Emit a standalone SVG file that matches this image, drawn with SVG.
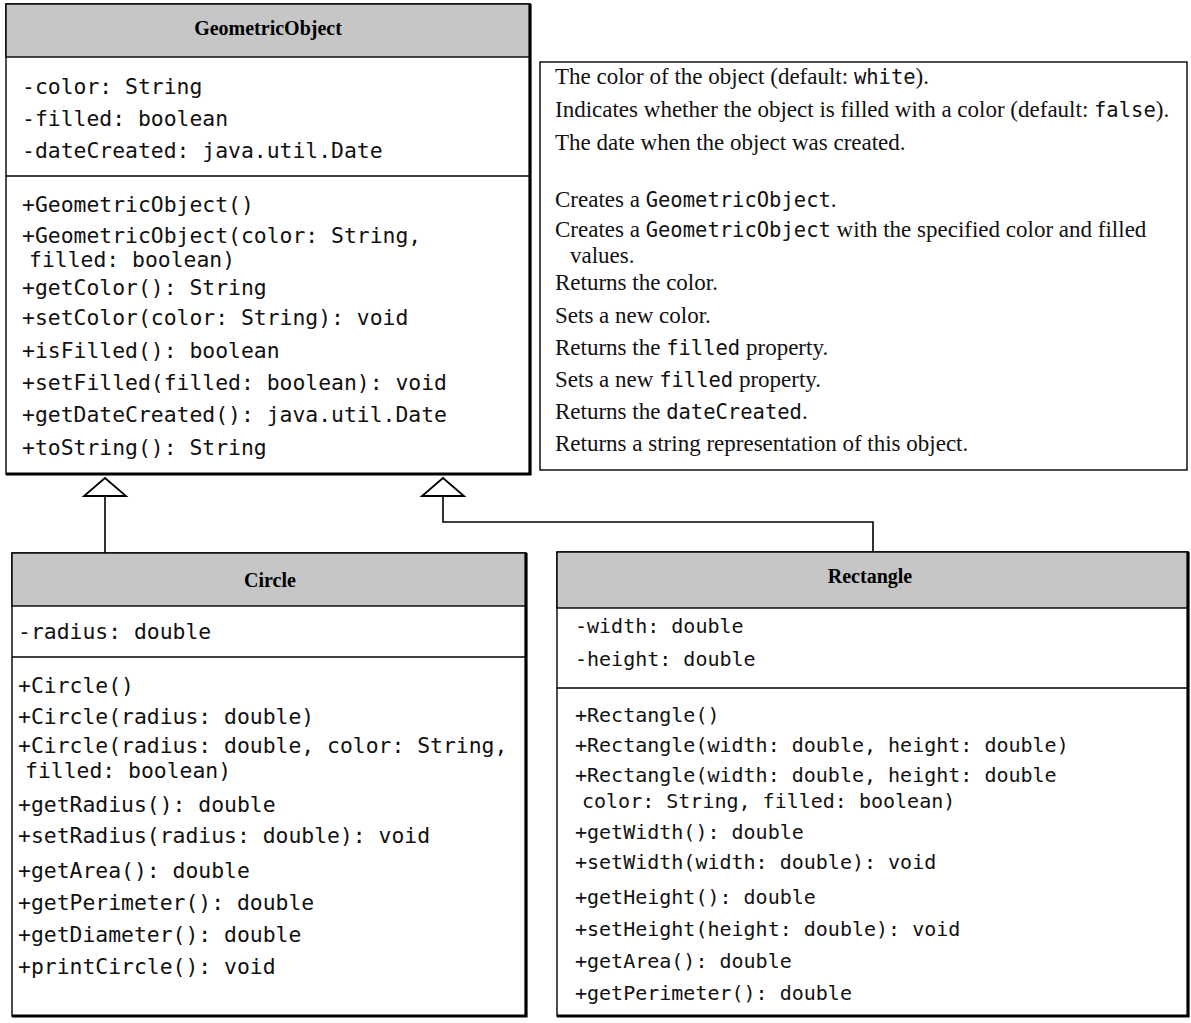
<svg xmlns="http://www.w3.org/2000/svg" width="1191" height="1023" viewBox="0 0 1191 1023">
<style>
.box{fill:#fff;stroke:#000;stroke-width:1.4}
.shadow{fill:none;stroke:#000;stroke-width:3.2}
.hdr{fill:#c6c6c6;stroke:#000;stroke-width:1.4}
.title{font-family:"Liberation Serif",serif;font-weight:bold;font-size:20px;text-anchor:middle;fill:#000}
.m{font-family:"DejaVu Sans Mono","Liberation Mono",monospace;font-size:21.4px;fill:#111}
.mr{font-family:"DejaVu Sans Mono","Liberation Mono",monospace;font-size:20px;fill:#111}
.d{font-family:"Liberation Serif",serif;font-size:23px;fill:#111}
.dm{font-family:"DejaVu Sans Mono","Liberation Mono",monospace;font-size:20.5px}
.sep{stroke:#000;stroke-width:1.4}
.conn{fill:none;stroke:#000;stroke-width:1.6}
.tri{fill:#fff;stroke:#000;stroke-width:1.8}
</style>
<rect width="1191" height="1023" fill="#fff"/>

<g id="GeometricObject">
<rect class="box" x="6" y="4" width="524" height="470"/>
<rect class="hdr" x="6" y="4" width="524" height="53"/>
<polyline class="shadow" points="530,4 530,474 6,474"/>
<text class="title" x="268" y="35">GeometricObject</text>
<text class="m" x="22" y="94">-color: String</text>
<text class="m" x="22" y="126">-filled: boolean</text>
<text class="m" x="22" y="158">-dateCreated: java.util.Date</text>
<line class="sep" x1="6" y1="176" x2="530" y2="176"/>
<text class="m" x="22" y="212">+GeometricObject()</text>
<text class="m" x="22" y="243">+GeometricObject(color: String,</text>
<text class="m" x="29" y="267">filled: boolean)</text>
<text class="m" x="22" y="295">+getColor(): String</text>
<text class="m" x="22" y="325">+setColor(color: String): void</text>
<text class="m" x="22" y="358">+isFilled(): boolean</text>
<text class="m" x="22" y="390">+setFilled(filled: boolean): void</text>
<text class="m" x="22" y="422">+getDateCreated(): java.util.Date</text>
<text class="m" x="22" y="455">+toString(): String</text>
</g>

<g id="Description">
<rect class="box" x="540" y="62" width="647" height="408"/>
<text class="d" x="555" y="84">The color of the object (default: <tspan class="dm">white</tspan>).</text>
<text class="d" x="555" y="117">Indicates whether the object is filled with a color (default: <tspan class="dm">false</tspan>).</text>
<text class="d" x="555" y="150">The date when the object was created.</text>
<text class="d" x="555" y="207">Creates a <tspan class="dm">GeometricObject</tspan>.</text>
<text class="d" x="555" y="237">Creates a <tspan class="dm">GeometricObject</tspan> with the specified color and filled</text>
<text class="d" x="570" y="263">values.</text>
<text class="d" x="555" y="290">Returns the color.</text>
<text class="d" x="555" y="323">Sets a new color.</text>
<text class="d" x="555" y="355">Returns the <tspan class="dm">filled</tspan> property.</text>
<text class="d" x="555" y="387">Sets a new <tspan class="dm">filled</tspan> property.</text>
<text class="d" x="555" y="419">Returns the <tspan class="dm">dateCreated</tspan>.</text>
<text class="d" x="555" y="451">Returns a string representation of this object.</text>
</g>

<g id="Circle">
<rect class="box" x="12" y="553" width="514" height="463"/>
<rect class="hdr" x="12" y="553" width="514" height="53"/>
<polyline class="shadow" points="526,553 526,1016 12,1016"/>
<text class="title" x="270" y="587">Circle</text>
<text class="m" x="18" y="639">-radius: double</text>
<line class="sep" x1="12" y1="657" x2="526" y2="657"/>
<text class="m" x="18" y="693">+Circle()</text>
<text class="m" x="18" y="724">+Circle(radius: double)</text>
<text class="m" x="18" y="753">+Circle(radius: double, color: String,</text>
<text class="m" x="25" y="778">filled: boolean)</text>
<text class="m" x="18" y="812">+getRadius(): double</text>
<text class="m" x="18" y="843">+setRadius(radius: double): void</text>
<text class="m" x="18" y="878">+getArea(): double</text>
<text class="m" x="18" y="910">+getPerimeter(): double</text>
<text class="m" x="18" y="942">+getDiameter(): double</text>
<text class="m" x="18" y="974">+printCircle(): void</text>
</g>

<g id="Rectangle">
<rect class="box" x="557" y="552" width="631" height="464"/>
<rect class="hdr" x="557" y="552" width="631" height="56"/>
<polyline class="shadow" points="1188,552 1188,1016 557,1016"/>
<text class="title" x="870" y="583">Rectangle</text>
<text class="mr" x="575" y="633">-width: double</text>
<text class="mr" x="575" y="666">-height: double</text>
<line class="sep" x1="557" y1="688" x2="1188" y2="688"/>
<text class="mr" x="575" y="722">+Rectangle()</text>
<text class="mr" x="575" y="752">+Rectangle(width: double, height: double)</text>
<text class="mr" x="575" y="782">+Rectangle(width: double, height: double</text>
<text class="mr" x="582" y="808">color: String, filled: boolean)</text>
<text class="mr" x="575" y="839">+getWidth(): double</text>
<text class="mr" x="575" y="869">+setWidth(width: double): void</text>
<text class="mr" x="575" y="904">+getHeight(): double</text>
<text class="mr" x="575" y="936">+setHeight(height: double): void</text>
<text class="mr" x="575" y="968">+getArea(): double</text>
<text class="mr" x="575" y="1000">+getPerimeter(): double</text>
</g>

<g id="connectors">
<polyline class="conn" points="105,496 105,553"/>
<polyline class="conn" points="443,496 443,522 873,522 873,552"/>
<polygon class="tri" points="105,478 84,496 126,496"/>
<polygon class="tri" points="443,478 422,496 464,496"/>
</g>
</svg>
